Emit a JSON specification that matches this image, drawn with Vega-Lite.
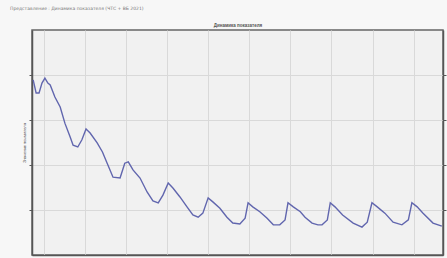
{
  "$schema": "https://vega.github.io/schema/vega-lite/v6.json",
  "width": 411,
  "height": 225,
  "autosize": "none",
  "padding": {"left": 32, "top": 30, "right": 4, "bottom": 3},
  "background": "#f7f7f7",
  "title": {
    "text": "Представление : Динамика показателя (ЧТС + ВБ 2021)",
    "anchor": "start",
    "frame": "group",
    "dx": -22,
    "offset": 12,
    "fontSize": 4.5,
    "fontWeight": "normal",
    "color": "#777777",
    "font": "DejaVu Sans"
  },
  "config": {
    "view": {"fill": "#f1f1f1", "stroke": "#666666", "strokeWidth": 1.5},
    "axis": {"gridColor": "#d9d9d9", "gridWidth": 1, "domainColor": "#555555", "tickColor": "#555555", "labels": false, "font": "DejaVu Sans"}
  },
  "data": {"values": [
    {"day": 0.2, "value": 3.89},
    {"day": 0.7, "value": 3.60},
    {"day": 1.2, "value": 3.60},
    {"day": 1.7, "value": 3.82},
    {"day": 2.2, "value": 3.93},
    {"day": 2.7, "value": 3.82},
    {"day": 3.1, "value": 3.78},
    {"day": 3.9, "value": 3.51},
    {"day": 4.8, "value": 3.29},
    {"day": 5.6, "value": 2.93},
    {"day": 6.5, "value": 2.62},
    {"day": 7.0, "value": 2.44},
    {"day": 7.8, "value": 2.40},
    {"day": 8.5, "value": 2.56},
    {"day": 9.2, "value": 2.80},
    {"day": 9.9, "value": 2.71},
    {"day": 11.1, "value": 2.49},
    {"day": 12.0, "value": 2.29},
    {"day": 12.8, "value": 2.04},
    {"day": 13.8, "value": 1.73},
    {"day": 15.0, "value": 1.71},
    {"day": 15.8, "value": 2.04},
    {"day": 16.4, "value": 2.07},
    {"day": 17.2, "value": 1.89},
    {"day": 18.4, "value": 1.71},
    {"day": 19.6, "value": 1.40},
    {"day": 20.6, "value": 1.20},
    {"day": 21.5, "value": 1.16},
    {"day": 22.3, "value": 1.33},
    {"day": 23.2, "value": 1.60},
    {"day": 24.0, "value": 1.49},
    {"day": 25.2, "value": 1.29},
    {"day": 26.4, "value": 1.07},
    {"day": 27.4, "value": 0.89},
    {"day": 28.3, "value": 0.84},
    {"day": 29.1, "value": 0.93},
    {"day": 30.0, "value": 1.27},
    {"day": 30.8, "value": 1.18},
    {"day": 32.0, "value": 1.04},
    {"day": 33.2, "value": 0.84},
    {"day": 34.2, "value": 0.71},
    {"day": 35.4, "value": 0.69},
    {"day": 36.3, "value": 0.82},
    {"day": 36.8, "value": 1.16},
    {"day": 37.6, "value": 1.07},
    {"day": 38.8, "value": 0.96},
    {"day": 40.0, "value": 0.82},
    {"day": 41.1, "value": 0.67},
    {"day": 42.2, "value": 0.67},
    {"day": 43.1, "value": 0.78},
    {"day": 43.6, "value": 1.16},
    {"day": 44.5, "value": 1.07},
    {"day": 45.7, "value": 0.96},
    {"day": 46.5, "value": 0.84},
    {"day": 47.7, "value": 0.71},
    {"day": 48.7, "value": 0.67},
    {"day": 49.4, "value": 0.67},
    {"day": 50.3, "value": 0.78},
    {"day": 50.8, "value": 1.16},
    {"day": 51.6, "value": 1.07},
    {"day": 52.9, "value": 0.89},
    {"day": 54.7, "value": 0.71},
    {"day": 56.2, "value": 0.62},
    {"day": 57.1, "value": 0.73},
    {"day": 57.9, "value": 1.16},
    {"day": 58.8, "value": 1.07},
    {"day": 60.1, "value": 0.93},
    {"day": 61.5, "value": 0.73},
    {"day": 63.0, "value": 0.67},
    {"day": 64.1, "value": 0.78},
    {"day": 64.7, "value": 1.16},
    {"day": 65.6, "value": 1.07},
    {"day": 66.6, "value": 0.93},
    {"day": 68.3, "value": 0.71},
    {"day": 69.8, "value": 0.64}
  ]},
  "resolve": {"axis": {"x": "independent", "y": "independent"}},
  "layer": [
    {
      "mark": {"type": "line", "color": "#6166ae", "strokeWidth": 1.4},
      "encoding": {
        "x": {"field": "day", "type": "quantitative", "scale": {"domain": [0, 70], "nice": false, "zero": false},
              "axis": {"orient": "bottom", "values": [2, 9, 16, 23, 30, 37, 44, 51, 58, 65], "ticks": false, "title": null, "domainWidth": 1.5}},
        "y": {"field": "value", "type": "quantitative", "scale": {"domain": [0, 5], "nice": false},
              "axis": {"orient": "left", "values": [1, 2, 3, 4], "tickSize": 3, "title": "Значение показателя", "titleFontSize": 4, "titleFontWeight": "normal", "titlePadding": 2, "titleColor": "#444444", "domainWidth": 1.5}}
      }
    },
    {
      "mark": {"type": "line", "opacity": 0},
      "encoding": {
        "x": {"field": "day", "type": "quantitative", "scale": {"domain": [0, 70], "nice": false, "zero": false},
              "axis": {"orient": "top", "grid": false, "ticks": false, "domain": false, "title": "Динамика показателя", "titleFontSize": 4.5, "titleFontWeight": "bold", "titleColor": "#555555", "titlePadding": 3}},
        "y": {"field": "value", "type": "quantitative", "scale": {"domain": [0, 5], "nice": false},
              "axis": {"orient": "right", "values": [1, 2, 3, 4], "grid": false, "tickSize": 3, "title": null, "domainWidth": 1.5}}
      }
    }
  ]
}
